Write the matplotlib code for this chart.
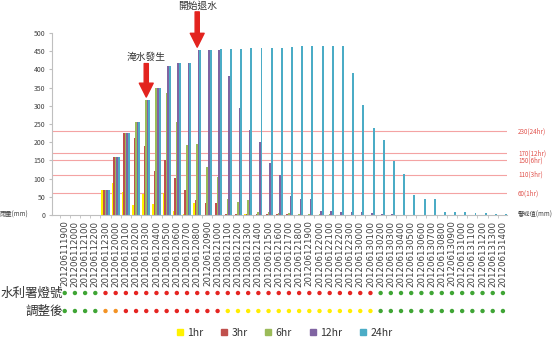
import numpy as np
import matplotlib
matplotlib.use("Agg")
import matplotlib.pyplot as plt
from matplotlib.lines import Line2D

plt.rcParams['font.family'] = ['Noto Sans CJK TC', 'DejaVu Sans']

# Fechas (horas) del evento
categories = ['201206111900', '201206112000', '201206112100', '201206112200', '201206112300',
              '201206120000', '201206120100', '201206120200', '201206120300', '201206120400',
              '201206120500', '201206120600', '201206120700', '201206120800', '201206120900',
              '201206121000', '201206121100', '201206121200', '201206121300', '201206121400',
              '201206121500', '201206121600', '201206121700', '201206121800', '201206121900',
              '201206122000', '201206122100', '201206122200', '201206122300', '201206130000',
              '201206130100', '201206130200', '201206130300', '201206130400', '201206130500',
              '201206130600', '201206130700', '201206130800', '201206130900', '201206131000',
              '201206131100', '201206131200', '201206131300', '201206131400']

# Lluvia acumulada (mm)
rain_1hr = [0, 0, 0, 0, 70, 88, 62, 27, 58, 30, 60, 12, 2, 33,
            1, 1, 1, 1, 2, 1, 0, 1, 0, 1, 0, 0, 0, 0, 0, 0,
            0, 0, 0, 0, 0, 0, 0, 0, 0, 0, 0, 0, 0, 0]
rain_3hr = [0, 0, 0, 0, 70, 158, 224, 212, 190, 121, 151, 101, 69, 40,
            33, 34, 3, 3, 4, 4, 3, 2, 2, 1, 1, 0, 0, 0, 0, 0,
            0, 0, 0, 0, 0, 0, 0, 0, 0, 0, 0, 0, 0, 0]
rain_6hr = [0, 0, 0, 0, 70, 158, 224, 255, 316, 348, 334, 256, 192, 195,
            133, 105, 43, 35, 41, 8, 8, 6, 5, 4, 3, 2, 2, 1, 1, 0,
            0, 0, 0, 0, 0, 0, 0, 0, 0, 0, 0, 0, 0, 0]
rain_12hr = [0, 0, 0, 0, 70, 158, 224, 255, 316, 348, 408, 418, 418, 453,
             453, 453, 381, 293, 233, 201, 142, 110, 51, 43, 43, 11, 10, 9, 8, 7,
             5, 3, 2, 1, 0, 0, 0, 0, 0, 0, 0, 0, 0, 0]
rain_24hr = [0, 0, 0, 0, 70, 158, 224, 255, 316, 348, 408, 418, 418, 453,
             453, 455, 455, 457, 458, 458, 458, 460, 461, 464, 464, 464, 464, 464, 391, 302,
             238, 206, 147, 114, 55, 44, 44, 9, 9, 7, 6, 5, 3, 2]

series_names = ['1hr', '3hr', '6hr', '12hr', '24hr']
series_colors = ['#FFF200', '#C0504D', '#9BBB59', '#8064A2', '#4BACC6']

# Valores de alerta
alert_values = [60, 110, 150, 170, 230]
alert_labels = ['60(1hr)', '110(3hr)', '150(6hr)', '170(12hr)', '230(24hr)']

# Semaforos: G verde, O naranja, R rojo, Y amarillo
wra_lights = "GGGGRRRRRRRRRRRRRRRRRRRRRRRRRRRGGGGGGGGGGGGG"
adjusted_lights = "GGGGOORRRRRRRRRRYYYYYYYYYYYYYYYGGGGGGGGGGGGG"
light_colors = {'G': '#3FA535', 'O': '#F39325', 'R': '#E52421', 'Y': '#FFED00'}

flood_start = 8
recede_start = 13

fig = plt.figure(figsize=(5.54, 3.38), dpi=100)
ax = fig.add_axes([52 / 554, 1 - 215 / 338, 455 / 554, 182 / 338])

x = np.arange(len(categories))
step = 0.155
bw = 0.19
all_series = [rain_1hr, rain_3hr, rain_6hr, rain_12hr, rain_24hr]
for k in range(5):
    ax.bar(x + (k - 2) * step, all_series[k], bw, color=series_colors[k],
           label=series_names[k], linewidth=0)

# Lineas de alerta
for v, lab in zip(alert_values, alert_labels):
    ax.axhline(v, color='#F4A3A3', linewidth=0.8, zorder=0)
    ax.text(1.024, v, lab, transform=ax.get_yaxis_transform(), fontsize=4.5,
            color='#E0504A', va='center', ha='left')

ax.set_xlim(-1.25, 43.4)
ax.set_ylim(0, 500)
ax.set_yticks(range(0, 501, 50))
ax.tick_params(axis='y', labelsize=5, length=2, color='#BFBFBF', labelcolor='#404040', pad=3)
ax.set_xticks(x)
ax.set_xticklabels(categories, rotation=90, fontsize=6.2, color='#404040', family='DejaVu Sans')
ax.tick_params(axis='x', length=0, pad=4)
ax.set_xticks(x - 0.5, minor=True)
ax.tick_params(axis='x', which='minor', length=2, color='#BFBFBF')
for s in ['top', 'right']:
    ax.spines[s].set_visible(False)
for s in ['left', 'bottom']:
    ax.spines[s].set_color('#BFBFBF')
    ax.spines[s].set_linewidth(0.8)

fig.text(0.0, 1 - 215 / 338, '雨量(mm)', fontsize=4.5, color='#404040', va='center', ha='left')
fig.text(518 / 554, 1 - 215 / 338, '警戒值(mm)', fontsize=4.5, color='#404040', va='center', ha='left')

# Flechas de eventos
arrow_style = dict(width=3, headwidth=10, headlength=10, color='#E3231E', shrink=0)
ax.annotate('', xy=(flood_start, rain_24hr[flood_start] + 8),
            xytext=(flood_start, rain_24hr[flood_start] + 100),
            arrowprops=arrow_style, annotation_clip=False)
ax.text(flood_start, rain_24hr[flood_start] + 118, '淹水發生', fontsize=7,
        color='#333333', ha='center', va='center')
ax.annotate('', xy=(recede_start, rain_24hr[recede_start] + 8),
            xytext=(recede_start, rain_24hr[recede_start] + 105),
            arrowprops=arrow_style, annotation_clip=False)
ax.text(recede_start, rain_24hr[recede_start] + 123, '開始退水', fontsize=7,
        color='#333333', ha='center', va='center', clip_on=False)

# Filas de semaforos
row1_y = (215 - 293) / 182
row2_y = (215 - 311) / 182
ax.scatter(x, [row1_y] * len(x), s=10, c=[light_colors[c] for c in wra_lights],
           transform=ax.get_xaxis_transform(), clip_on=False, linewidths=0)
ax.scatter(x, [row2_y] * len(x), s=10, c=[light_colors[c] for c in adjusted_lights],
           transform=ax.get_xaxis_transform(), clip_on=False, linewidths=0)
fig.text(63 / 554, 1 - 293 / 338, '水利署燈號', fontsize=9, color='#333333', ha='right', va='center')
fig.text(63 / 554, 1 - 311 / 338, '調整後', fontsize=9, color='#333333', ha='right', va='center')

handles = [Line2D([], [], marker='s', linestyle='', markersize=4, color=c) for c in series_colors]
fig.legend(handles, series_names, loc='center', bbox_to_anchor=(284 / 554, 5 / 338), ncol=5,
           frameon=False, fontsize=7.5, handlelength=0.8, handletextpad=0.3, columnspacing=1.6,
           labelcolor='#333333')

plt.savefig('out.png', dpi=100)
